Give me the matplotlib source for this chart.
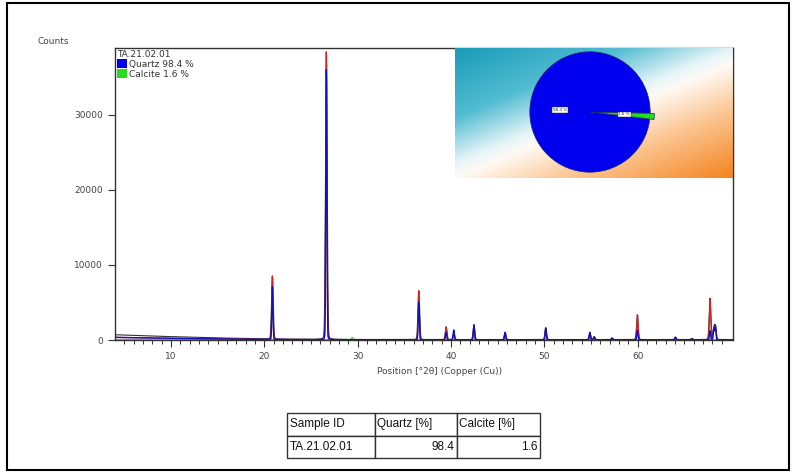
import numpy as np
import matplotlib
matplotlib.use('Agg')
import matplotlib.pyplot as plt
from matplotlib.patches import Rectangle, Patch
from matplotlib.colors import LinearSegmentedColormap
from matplotlib.table import Table

# peak list (deg 2theta, counts)
peak_pos=	[20.86, 26.64, 36.54, 39.47, 40.29, 42.45, 45.79, 50.14, 54.87, 55.33, 57.24, 59.96, 64.03, 65.79, 67.74, 68.14, 68.31]
obs_height=	[8400, 38300, 6500, 1700, 900, 1900, 900, 1500, 900, 350, 200, 3300, 300, 150, 5500, 1400, 1700]
quartz_height=	[7000, 36000, 5000, 1000, 1300, 2000, 1000, 1600, 1000, 400, 200, 1300, 350, 150, 1200, 1500, 1900]
calcite_pos=	[29.41]
calcite_height=	[300]
bg_pos=		[4, 8, 12, 16, 20, 25, 30, 40, 50, 60, 70.2]
bg_counts=	[700, 520, 380, 250, 150, 90, 70, 60, 60, 60, 60]

phases=		['Quartz', 'Calcite']
phase_pct=	[98.4, 1.6]
phase_colors=	['#0000ee', '#22dd22']
sample_id=	'TA.21.02.01'

W, H= 793, 472
fig= plt.figure(figsize=(W/100, H/100), dpi=100)
plt.rcParams['font.family']= ['DejaVu Sans']

def fx(px): return px/W
def fy(py): return 1-py/H

# main pattern axes
ax= fig.add_axes([fx(115), fy(340), fx(733)-fx(115), fy(48)-fy(340)])

tt= np.arange(4, 70.2, 0.005)
bg= np.interp(tt, bg_pos, bg_counts)

def profile(pos, heights, sig=0.06, eta=0.06):
	# pseudo-voigt, mostly gaussian
	y= np.zeros_like(tt)
	hw= sig*1.18
	for p, h in zip(pos, heights):
		g= np.exp(-0.5*((tt-p)/sig)**2)
		l= hw**2/((tt-p)**2+hw**2)
		y+= h*((1-eta)*g+eta*l)
	return y

ax.plot(tt, bg+profile(peak_pos, obs_height, 0.09), color='#333333', lw=0.8)
ax.plot(tt, 40+profile(calcite_pos, calcite_height, 0.1), color='#55bb44', lw=0.8)
ax.plot(tt, bg*0.5+profile(peak_pos, obs_height), color='#e02020', lw=0.9)
ax.plot(tt, bg*0.5+profile(peak_pos, quartz_height), color='#1010c0', lw=1.0)

ax.set_xlim(4, 70.2)
ax.set_ylim(0, 38900)
ax.set_xticks([10, 20, 30, 40, 50, 60])
ax.set_xticks(np.arange(5, 70, 1), minor=True)
ax.set_yticks([0, 10000, 20000, 30000])
ax.tick_params(axis='both', which='major', labelsize=6.5, labelcolor='#444444', color='#333333', length=5, width=0.8)
ax.tick_params(axis='x', which='minor', length=3, width=0.7, color='#333333')
for s in ax.spines.values():
	s.set_color('#333333')
	s.set_linewidth(1.0)

handles= [Patch(facecolor=c, edgecolor='none') for c in phase_colors]
labels= [f'{n} {v} %' for n, v in zip(phases, phase_pct)]
leg= ax.legend(handles, labels, loc='upper left', frameon=False, title=sample_id, alignment='left',
	fontsize=6.5, title_fontsize=6.5, handlelength=1.1, handleheight=1.1, handletextpad=0.3,
	labelspacing=0.05, borderpad=0.1, borderaxespad=0.1)
for t in leg.get_texts(): t.set_color('#333333')
leg.get_title().set_color('#333333')

fig.text(fx(37), fy(42), 'Counts', fontsize=6.5, color='#444444', va='center')
fig.text(fx(440), fy(372), 'Position [°2θ] (Copper (Cu))', fontsize=6.5, color='#444444', ha='center', va='center')

# gradient panel behind the pie
gax= fig.add_axes([fx(455), fy(178), fx(733)-fx(455), fy(48)-fy(178)])
gx, gy= np.meshgrid(np.linspace(0, 278, 300), np.linspace(0, 130, 150))
s= (115*gx-278*(gy-10))/301
s= np.clip((s+110)/225, 0, 1)
cmap= LinearSegmentedColormap.from_list('bg', [(0, '#1a9cb9'), (0.28, '#52bcd2'), (0.47, '#e6f5f8'),
	(0.53, '#fffaf4'), (0.72, '#fbc693'), (1, '#f5841f')])
gax.imshow(cmap(s), origin='lower', extent=[0, 1, 0, 1], aspect='auto')
gax.set_xticks([]); gax.set_yticks([])
for sp in ['top', 'left', 'bottom']: gax.spines[sp].set_visible(False)
gax.spines['right'].set_color('#333333')

pax= fig.add_axes([fx(520), fy(182), fx(660)-fx(520), fy(42)-fy(182)])
pax.pie(phase_pct, colors=phase_colors, startangle=-1.1, explode=[0, 0.06], radius=0.86,
	wedgeprops=dict(edgecolor='#1a2a60', linewidth=0.5),
	autopct='%.1f %%', pctdistance=0.5,
	textprops=dict(fontsize=3, color='#333333', bbox=dict(facecolor='white', edgecolor='#333333', linewidth=0.3, pad=0.6)))
pax.set_xlim(-1, 1); pax.set_ylim(-1, 1)
pax.axis('off')

# results table
tax= fig.add_axes([fx(287), fy(458), fx(540)-fx(287), fy(413)-fy(458)])
tax.axis('off')
tbl= Table(tax, bbox=[0, 0, 1, 1])
col_w= [88, 82, 83]
rows= [['Sample ID', 'Quartz [%]', 'Calcite [%]'],
	[sample_id, f'{phase_pct[0]}', f'{phase_pct[1]}']]
for r, row in enumerate(rows):
	for c, txt in enumerate(row):
		loc= 'right' if (r==1 and c>0) else 'left'
		cell= tbl.add_cell(r, c, col_w[c], 1, text=txt, loc=loc, edgecolor='#333333')
		cell.PAD= 0.03
		cell.set_linewidth(1.0)
tbl.auto_set_font_size(False)
tbl.set_fontsize(8.5)
for cell in tbl.get_celld().values():
	cell.get_text().set_fontfamily('Liberation Sans')
	cell.get_text().set_color('#111111')
tax.add_table(tbl)

fig.patches.append(Rectangle((fx(7), fy(470)), fx(789)-fx(7), fy(3)-fy(470), transform=fig.transFigure,
	fill=False, edgecolor='black', linewidth=1.5))

fig.savefig('out.png', dpi=100)
